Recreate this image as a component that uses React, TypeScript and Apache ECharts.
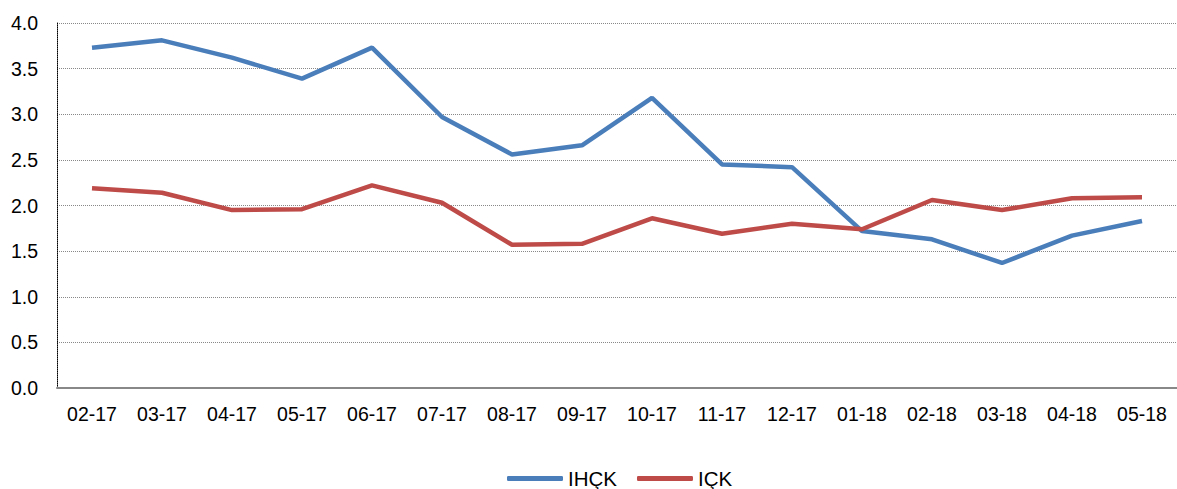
import React, { useEffect, useRef } from "react";
import * as echarts from "echarts";

const categories = ["02-17","03-17","04-17","05-17","06-17","07-17","08-17","09-17","10-17","11-17","12-17","01-18","02-18","03-18","04-18","05-18"];
const ihckValues = [3.73,3.81,3.62,3.39,3.73,2.97,2.56,2.66,3.18,2.45,2.42,1.72,1.63,1.37,1.67,1.83];
const ickValues = [2.19,2.14,1.95,1.96,2.22,2.03,1.57,1.58,1.86,1.69,1.80,1.74,2.06,1.95,2.08,2.09];
const seriesNames = ["IHÇK", "IÇK"];

export default function App() {
  const ref = useRef<HTMLDivElement>(null);
  useEffect(() => {
    if (!ref.current) return;
    const chart = echarts.init(ref.current, null, { renderer: "svg" });
    const font = "'Liberation Sans', Arial, sans-serif";
    chart.setOption({
      animation: false,
      textStyle: { fontFamily: font },
      grid: { left: 57, right: 0, top: 23, bottom: 101, containLabel: false },
      legend: {
        data: seriesNames.map((n) => ({ name: n, icon: "roundRect" })),
        top: 468,
        left: 507,
        padding: 0,
        itemWidth: 56,
        itemHeight: 5,
        itemGap: 20,
        textStyle: { fontFamily: font, fontSize: 20.5, lineHeight: 20, color: "#000" },
      },
      xAxis: {
        type: "category",
        data: categories,
        boundaryGap: true,
        axisLine: { show: true, lineStyle: { color: "#888", width: 2 } },
        axisTick: { show: false },
        axisLabel: { color: "#000", fontSize: 19.5, margin: 16, fontFamily: font },
      },
      yAxis: {
        type: "value",
        min: 0,
        max: 4,
        interval: 0.5,
        axisLine: { show: true, lineStyle: { color: "#000", type: "dotted", width: 1 } },
        axisTick: { show: false },
        axisLabel: {
          color: "#000",
          fontSize: 19.5,
          margin: 19,
          fontFamily: font,
          formatter: (v: number) => v.toFixed(1),
        },
        splitLine: { show: true, lineStyle: { color: "#888", type: "dotted", width: 1 } },
      },
      series: [
        {
          name: seriesNames[0],
          type: "line",
          data: ihckValues,
          symbol: "none",
          lineStyle: { color: "#4A7EBB", width: 4.5 },
          itemStyle: { color: "#4A7EBB" },
        },
        {
          name: seriesNames[1],
          type: "line",
          data: ickValues,
          symbol: "none",
          lineStyle: { color: "#BE4B48", width: 4.5 },
          itemStyle: { color: "#BE4B48" },
        },
      ],
    });
    return () => chart.dispose();
  }, []);
  return (
    <div
      ref={ref}
      style={{ position: "fixed", left: 0, top: 0, width: 1177, height: 489, background: "#fff" }}
    />
  );
}
